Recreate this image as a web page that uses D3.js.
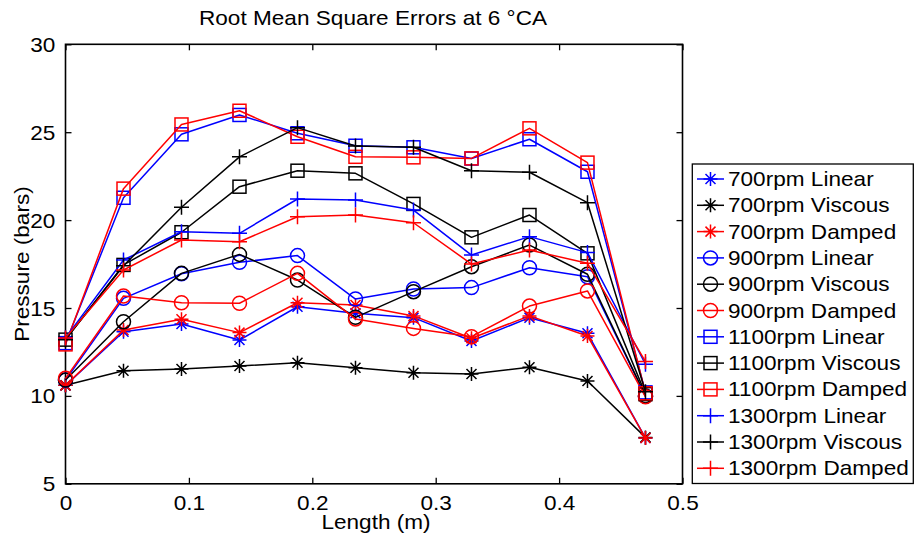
<!DOCTYPE html>
<html>
<head>
<meta charset="utf-8">
<script src="https://cdn.jsdelivr.net/npm/d3@7"></script>
<style>
  html, body { margin: 0; padding: 0; background: #fff; }
  svg { display: block; }
  text { font-family: "Liberation Sans", Arial, sans-serif; fill: #000; }
</style>
</head>
<body>
<svg id="chart" width="914" height="538"></svg>
<script>
// Sample positions along the length (m)
const lengths = [0, 0.047, 0.094, 0.141, 0.188, 0.235, 0.282, 0.329, 0.376, 0.423, 0.47];

// RMS pressure error (bars) per engine speed and model
const lin700   = [10.6, 13.65, 14.09, 13.18, 15.07, 14.70, 14.45, 13.12, 14.45, 13.56, 7.60];
const visc700  = [10.6, 11.43, 11.53, 11.70, 11.89, 11.60, 11.32, 11.25, 11.63, 10.85, 7.64];
const damp700  = [10.6, 13.75, 14.36, 13.60, 15.30, 15.17, 14.55, 13.28, 14.55, 13.41, 7.60];
const lin900   = [10.9, 15.55, 16.95, 17.60, 17.98, 15.51, 16.08, 16.16, 17.29, 16.78, 9.98];
const visc900  = [10.9, 14.22, 16.97, 18.05, 16.59, 14.47, 15.93, 17.35, 18.58, 16.92, 10.00];
const damp900  = [11.0, 15.68, 15.30, 15.27, 16.97, 14.37, 13.84, 13.37, 15.11, 15.97, 9.95];
const lin1100  = [13.0, 21.27, 24.88, 25.98, 24.94, 24.23, 24.14, 23.50, 24.60, 22.75, 10.20];
const visc1100 = [13.2, 17.45, 19.31, 21.90, 22.81, 22.66, 20.92, 19.02, 20.29, 18.11, 10.10];
const damp1100 = [12.93, 21.79, 25.44, 26.22, 24.74, 23.60, 23.57, 23.51, 25.22, 23.27, 10.15];
const lin1300  = [13.3, 17.73, 19.34, 19.25, 21.20, 21.14, 20.57, 18.01, 19.06, 18.15, 11.80];
const visc1300 = [13.2, 17.40, 20.73, 23.60, 25.26, 24.21, 24.14, 22.81, 22.72, 20.99, 10.24];
const damp1300 = [13.3, 17.16, 18.87, 18.77, 20.19, 20.29, 19.85, 17.50, 18.30, 17.54, 11.95];

const seriesNames = [
  "700rpm Linear", "700rpm Viscous", "700rpm Damped",
  "900rpm Linear", "900rpm Viscous", "900rpm Damped",
  "1100rpm Linear", "1100rpm Viscous", "1100rpm Damped",
  "1300rpm Linear", "1300rpm Viscous", "1300rpm Damped"
];
const seriesValues = [lin700, visc700, damp700, lin900, visc900, damp900,
                      lin1100, visc1100, damp1100, lin1300, visc1300, damp1300];
const seriesColors = ["#0000ff", "#000000", "#ff0000"];
const seriesMarkers = ["asterisk", "circle", "square", "plus"];

const xTicks = [0, 0.1, 0.2, 0.3, 0.4, 0.5];
const yTicks = [5, 10, 15, 20, 25, 30];

const titleText = "Root Mean Square Errors at 6 \u00B0CA";
const xLabel = "Length (m)";
const yLabel = "Pressure (bars)";

// Layout
const plot = { left: 65.5, right: 682.5, top: 44.3, bottom: 483.8 };
const FS = 20;        // font size
const SX = 1.13;      // horizontal text stretch

const svg = d3.select("#chart");
const x = d3.scaleLinear().domain([0, 0.5]).range([plot.left, plot.right]);
const y = d3.scaleLinear().domain([5, 30]).range([plot.bottom, plot.top]);

function stretchedText(parent, tx, ty, str, anchor, rotate) {
  const g = parent.append("g")
    .attr("transform", `translate(${tx},${ty})` + (rotate ? ` rotate(${rotate})` : "") + ` scale(${SX},1)`);
  g.append("text").attr("text-anchor", anchor || "middle")
    .attr("font-size", FS).text(str);
  return g;
}

// Axes with inward ticks on all four sides
const tickLen = 6;
const axB = svg.append("g").attr("transform", `translate(0,${plot.bottom})`)
  .call(d3.axisBottom(x).tickValues(xTicks).tickSizeInner(-tickLen).tickSizeOuter(0)
        .tickPadding(12).tickFormat(d3.format("")));
const axT = svg.append("g").attr("transform", `translate(0,${plot.top})`)
  .call(d3.axisTop(x).tickValues(xTicks).tickSizeInner(-tickLen).tickSizeOuter(0).tickFormat(""));
const axL = svg.append("g").attr("transform", `translate(${plot.left},0)`)
  .call(d3.axisLeft(y).tickValues(yTicks).tickSizeInner(-tickLen).tickSizeOuter(0)
        .tickPadding(9).tickFormat(d3.format("")));
const axR = svg.append("g").attr("transform", `translate(${plot.right},0)`)
  .call(d3.axisRight(y).tickValues(yTicks).tickSizeInner(-tickLen).tickSizeOuter(0).tickFormat(""));

[axB, axT, axL, axR].forEach(a => {
  a.select(".domain").remove();
  a.selectAll(".tick line").attr("stroke", "#000").attr("stroke-width", 1.3);
  a.selectAll(".tick text").attr("font-size", FS)
    .attr("font-family", "Liberation Sans, Arial, sans-serif").attr("fill", "#000");
});
axB.selectAll(".tick text").attr("transform", `scale(${SX},1)`);
axL.selectAll(".tick text").attr("transform", `scale(${SX},1)`).attr("dy", "0.35em");

// Frame
svg.append("rect")
  .attr("x", plot.left).attr("y", plot.top)
  .attr("width", plot.right - plot.left).attr("height", plot.bottom - plot.top)
  .attr("fill", "none").attr("stroke", "#000").attr("stroke-width", 1.6);

// Marker drawing
function drawMarker(g, kind, color, cx, cy) {
  if (kind === "circle") {
    g.append("circle").attr("cx", cx).attr("cy", cy).attr("r", 7)
      .attr("fill", "none").attr("stroke", color).attr("stroke-width", 1.5);
  } else if (kind === "square") {
    g.append("rect").attr("x", cx - 6.5).attr("y", cy - 6.5).attr("width", 13).attr("height", 13)
      .attr("fill", "none").attr("stroke", color).attr("stroke-width", 1.5);
  } else if (kind === "plus") {
    g.append("path").attr("d", `M${cx - 7.5},${cy}H${cx + 7.5}M${cx},${cy - 7.5}V${cy + 7.5}`)
      .attr("stroke", color).attr("stroke-width", 1.5).attr("fill", "none");
  } else {
    const r = 7, d = 5;
    g.append("path")
      .attr("d", `M${cx - r},${cy}H${cx + r}M${cx},${cy - r}V${cy + r}` +
                 `M${cx - d},${cy - d}L${cx + d},${cy + d}M${cx - d},${cy + d}L${cx + d},${cy - d}`)
      .attr("stroke", color).attr("stroke-width", 1.5).attr("fill", "none");
  }
}

// Series lines and markers
const line = d3.line().x((d, i) => x(lengths[i])).y(d => y(d));
const gData = svg.append("g");
seriesValues.forEach((vals, s) => {
  const color = seriesColors[s % 3];
  const marker = seriesMarkers[Math.floor(s / 3)];
  const g = gData.append("g");
  g.append("path").datum(vals).attr("d", line)
    .attr("fill", "none").attr("stroke", color).attr("stroke-width", 1.5)
    .attr("stroke-linejoin", "round");
  vals.forEach((v, i) => drawMarker(g, marker, color, x(lengths[i]), y(v)));
});

// Title and axis labels
stretchedText(svg, (plot.left + plot.right) / 2 - 1, 25, titleText, "middle");
stretchedText(svg, (plot.left + plot.right) / 2 + 2, 529, xLabel, "middle");
stretchedText(svg, 29, (plot.top + plot.bottom) / 2, yLabel, "middle", -90);

// Legend
const leg = { x: 692.3, y: 164, w: 221, h: 319.5, row0: 179, step: 26.3 };
const gl = svg.append("g");
gl.append("rect").attr("x", leg.x).attr("y", leg.y).attr("width", leg.w).attr("height", leg.h)
  .attr("fill", "#fff").attr("stroke", "#000").attr("stroke-width", 1.3);
seriesNames.forEach((name, s) => {
  const color = seriesColors[s % 3];
  const marker = seriesMarkers[Math.floor(s / 3)];
  const cy = leg.row0 + s * leg.step;
  gl.append("line").attr("x1", 697).attr("x2", 724).attr("y1", cy).attr("y2", cy)
    .attr("stroke", color).attr("stroke-width", 1.5);
  drawMarker(gl, marker, color, 710.5, cy);
  const t = stretchedText(gl, 728, cy, name, "start");
  t.select("text").attr("dy", "0.35em");
});
</script>
</body>
</html>
